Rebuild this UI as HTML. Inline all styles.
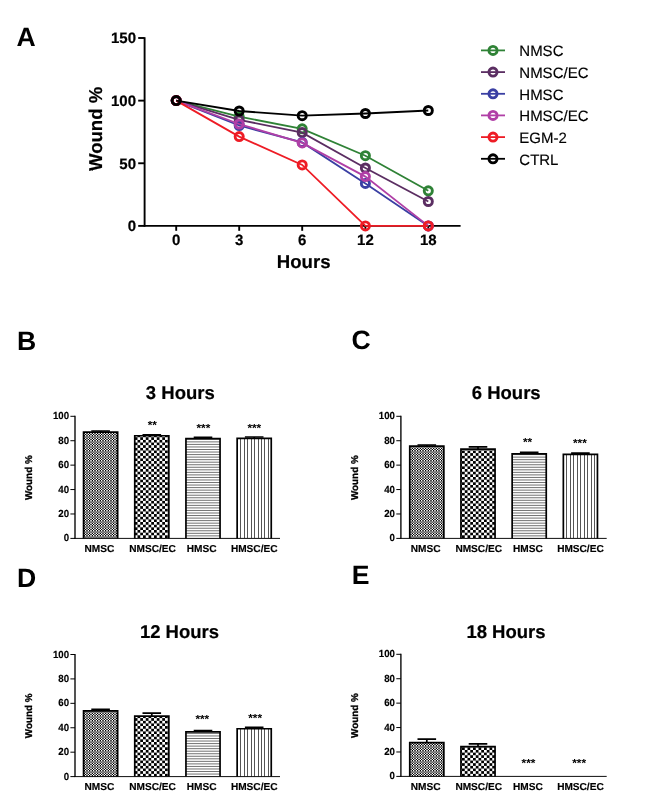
<!DOCTYPE html>
<html lang="en"><head><meta charset="utf-8"><title>Wound healing assay</title>
<style>
html,body{margin:0;padding:0;background:#fff;}
body{width:650px;height:807px;overflow:hidden;}
svg{display:block;}
text{font-family:"Liberation Sans", sans-serif;fill:#000;text-rendering:geometricPrecision;}
.pl{font-size:26.6px;font-weight:bold;}
.tA{font-size:15px;font-weight:bold;stroke:#000;stroke-width:0.2px;}
.lA{font-size:18.6px;font-weight:bold;stroke:#000;stroke-width:0.2px;}
.lg{font-size:15px;stroke:#000;stroke-width:0.15px;}
.tt{font-size:18.5px;font-weight:bold;stroke:#000;stroke-width:0.2px;}
.tB{font-size:10.3px;font-weight:bold;stroke:#000;stroke-width:0.15px;}
.bl{font-size:10.1px;font-weight:bold;stroke:#000;stroke-width:0.15px;}
.lB{font-size:9.9px;font-weight:bold;stroke:#000;stroke-width:0.3px;}
.st{font-size:11.8px;font-weight:bold;}
.axA{stroke:#000;stroke-width:1.9;fill:none;}
.axB{stroke:#000;fill:none;}
.eb{stroke:#000;stroke-width:1.7;fill:none;}
.hl{stroke:#000;stroke-width:0.56;fill:none;}
.vl{stroke:#555;stroke-width:1;fill:none;shape-rendering:crispEdges;}
</style></head><body>
<svg width="650" height="807" viewBox="0 0 650 807">
<defs>
<pattern id="p1" width="8" height="5" patternUnits="userSpaceOnUse" shape-rendering="crispEdges"><rect x="0" y="0" width="1" height="1" fill="#ffffff"/><rect x="1" y="0" width="1" height="1" fill="#000000"/><rect x="2" y="0" width="1" height="1" fill="#bfbfbf"/><rect x="3" y="0" width="1" height="1" fill="#bfbfbf"/><rect x="4" y="0" width="1" height="1" fill="#000000"/><rect x="5" y="0" width="1" height="1" fill="#ffffff"/><rect x="6" y="0" width="1" height="1" fill="#4c4c4c"/><rect x="7" y="0" width="1" height="1" fill="#4c4c4c"/><rect x="0" y="1" width="1" height="1" fill="#999999"/><rect x="1" y="1" width="1" height="1" fill="#666666"/><rect x="2" y="1" width="1" height="1" fill="#8c8c8c"/><rect x="3" y="1" width="1" height="1" fill="#8c8c8c"/><rect x="4" y="1" width="1" height="1" fill="#666666"/><rect x="5" y="1" width="1" height="1" fill="#999999"/><rect x="6" y="1" width="1" height="1" fill="#757575"/><rect x="7" y="1" width="1" height="1" fill="#757575"/><rect x="0" y="2" width="1" height="1" fill="#666666"/><rect x="1" y="2" width="1" height="1" fill="#999999"/><rect x="2" y="2" width="1" height="1" fill="#737373"/><rect x="3" y="2" width="1" height="1" fill="#737373"/><rect x="4" y="2" width="1" height="1" fill="#999999"/><rect x="5" y="2" width="1" height="1" fill="#666666"/><rect x="6" y="2" width="1" height="1" fill="#8a8a8a"/><rect x="7" y="2" width="1" height="1" fill="#8a8a8a"/><rect x="0" y="3" width="1" height="1" fill="#ffffff"/><rect x="1" y="3" width="1" height="1" fill="#000000"/><rect x="2" y="3" width="1" height="1" fill="#bfbfbf"/><rect x="3" y="3" width="1" height="1" fill="#bfbfbf"/><rect x="4" y="3" width="1" height="1" fill="#000000"/><rect x="5" y="3" width="1" height="1" fill="#ffffff"/><rect x="6" y="3" width="1" height="1" fill="#4c4c4c"/><rect x="7" y="3" width="1" height="1" fill="#4c4c4c"/><rect x="0" y="4" width="1" height="1" fill="#000000"/><rect x="1" y="4" width="1" height="1" fill="#ffffff"/><rect x="2" y="4" width="1" height="1" fill="#404040"/><rect x="3" y="4" width="1" height="1" fill="#404040"/><rect x="4" y="4" width="1" height="1" fill="#ffffff"/><rect x="5" y="4" width="1" height="1" fill="#000000"/><rect x="6" y="4" width="1" height="1" fill="#b2b2b2"/><rect x="7" y="4" width="1" height="1" fill="#b2b2b2"/></pattern>
<pattern id="p2" width="5.5" height="5.3" patternUnits="userSpaceOnUse"><rect width="5.5" height="5.3" fill="#fff"/><rect width="2.75" height="2.65" fill="#000"/><rect x="2.75" y="2.65" width="2.75" height="2.65" fill="#000"/></pattern>
<pattern id="p3" width="4" height="2.6" patternUnits="userSpaceOnUse"><rect width="4" height="2.6" fill="#fff"/><rect width="4" height="0.65" fill="#222"/></pattern>
<pattern id="p4" width="3.4" height="4" patternUnits="userSpaceOnUse"><rect width="3.4" height="4" fill="#fff"/><rect width="0.65" height="4" fill="#222"/></pattern>
</defs>
<rect width="650" height="807" fill="#fff"/>
<g id="panelA">
<text x="16.4" y="45.9" class="pl">A</text>
<path d="M144.6 37.245000000000005V226.65" class="axA"/>
<path d="M143.85 225.9H460.6" class="axA"/>
<path d="M138.2 225.9H144.6" class="axA"/>
<text x="136.0" y="231.3" class="tA" text-anchor="end">0</text>
<path d="M138.2 163.26500000000001H144.6" class="axA"/>
<text x="136.0" y="168.66500000000002" class="tA" text-anchor="end">50</text>
<path d="M138.2 100.63000000000001H144.6" class="axA"/>
<text x="136.0" y="106.03000000000002" class="tA" text-anchor="end">100</text>
<path d="M138.2 37.995000000000005H144.6" class="axA"/>
<text x="136.0" y="43.395" class="tA" text-anchor="end">150</text>
<path d="M176.2 225.9V230.8" class="axA"/>
<text x="176.2" y="244.8" class="tA" text-anchor="middle">0</text>
<path d="M239.2 225.9V230.8" class="axA"/>
<text x="239.2" y="244.8" class="tA" text-anchor="middle">3</text>
<path d="M302.2 225.9V230.8" class="axA"/>
<text x="302.2" y="244.8" class="tA" text-anchor="middle">6</text>
<path d="M365.4 225.9V230.8" class="axA"/>
<text x="365.4" y="244.8" class="tA" text-anchor="middle">12</text>
<path d="M428.3 225.9V230.8" class="axA"/>
<text x="428.3" y="244.8" class="tA" text-anchor="middle">18</text>
<text x="303.7" y="267.5" class="lA" text-anchor="middle">Hours</text>
<text transform="translate(102.2,128.9) rotate(-90)" class="lA" text-anchor="middle">Wound %</text>
<g stroke="#2f8236" fill="none">
<polyline points="176.2,100.6 239.2,116.6 302.2,128.8 365.4,155.7 428.3,190.8" stroke-width="1.8"/>
<circle cx="176.2" cy="100.6" r="4.05" stroke-width="2.9"/>
<circle cx="239.2" cy="116.6" r="4.05" stroke-width="2.9"/>
<circle cx="302.2" cy="128.8" r="4.05" stroke-width="2.9"/>
<circle cx="365.4" cy="155.7" r="4.05" stroke-width="2.9"/>
<circle cx="428.3" cy="190.8" r="4.05" stroke-width="2.9"/>
</g>
<g stroke="#5b2e62" fill="none">
<polyline points="176.2,100.6 239.2,119.8 302.2,132.6 365.4,168.0 428.3,201.5" stroke-width="1.8"/>
<circle cx="176.2" cy="100.6" r="4.05" stroke-width="2.9"/>
<circle cx="239.2" cy="119.8" r="4.05" stroke-width="2.9"/>
<circle cx="302.2" cy="132.6" r="4.05" stroke-width="2.9"/>
<circle cx="365.4" cy="168.0" r="4.05" stroke-width="2.9"/>
<circle cx="428.3" cy="201.5" r="4.05" stroke-width="2.9"/>
</g>
<g stroke="#3a3fa3" fill="none">
<polyline points="176.2,100.6 239.2,125.5 302.2,142.4 365.4,183.4 428.3,225.9" stroke-width="1.8"/>
<circle cx="176.2" cy="100.6" r="4.05" stroke-width="2.9"/>
<circle cx="239.2" cy="125.5" r="4.05" stroke-width="2.9"/>
<circle cx="302.2" cy="142.4" r="4.05" stroke-width="2.9"/>
<circle cx="365.4" cy="183.4" r="4.05" stroke-width="2.9"/>
<circle cx="428.3" cy="225.9" r="4.05" stroke-width="2.9"/>
</g>
<g stroke="#b03fa6" fill="none">
<polyline points="176.2,100.6 239.2,124.0 302.2,142.9 365.4,176.6 428.3,225.9" stroke-width="1.8"/>
<circle cx="176.2" cy="100.6" r="4.05" stroke-width="2.9"/>
<circle cx="239.2" cy="124.0" r="4.05" stroke-width="2.9"/>
<circle cx="302.2" cy="142.9" r="4.05" stroke-width="2.9"/>
<circle cx="365.4" cy="176.6" r="4.05" stroke-width="2.9"/>
<circle cx="428.3" cy="225.9" r="4.05" stroke-width="2.9"/>
</g>
<g stroke="#ee1c25" fill="none">
<polyline points="176.2,100.6 239.2,136.6 302.2,164.9 365.4,225.9 428.3,225.9" stroke-width="1.8"/>
<circle cx="176.2" cy="100.6" r="4.05" stroke-width="2.9"/>
<circle cx="239.2" cy="136.6" r="4.05" stroke-width="2.9"/>
<circle cx="302.2" cy="164.9" r="4.05" stroke-width="2.9"/>
<circle cx="365.4" cy="225.9" r="4.05" stroke-width="2.9"/>
<circle cx="428.3" cy="225.9" r="4.05" stroke-width="2.9"/>
</g>
<g stroke="#000000" fill="none">
<polyline points="176.2,100.6 239.2,111.0 302.2,115.7 365.4,113.5 428.3,110.5" stroke-width="1.8"/>
<circle cx="176.2" cy="100.6" r="4.05" stroke-width="2.9"/>
<circle cx="239.2" cy="111.0" r="4.05" stroke-width="2.9"/>
<circle cx="302.2" cy="115.7" r="4.05" stroke-width="2.9"/>
<circle cx="365.4" cy="113.5" r="4.05" stroke-width="2.9"/>
<circle cx="428.3" cy="110.5" r="4.05" stroke-width="2.9"/>
</g>
<g stroke="#2f8236" fill="none"><path d="M481 50.4H505" stroke-width="1.8"/><circle cx="493" cy="50.4" r="4.05" stroke-width="2.9"/></g>
<text x="519.3" y="56.2" class="lg">NMSC</text>
<g stroke="#5b2e62" fill="none"><path d="M481 72.1H505" stroke-width="1.8"/><circle cx="493" cy="72.1" r="4.05" stroke-width="2.9"/></g>
<text x="519.3" y="77.9" class="lg">NMSC/EC</text>
<g stroke="#3a3fa3" fill="none"><path d="M481 93.8H505" stroke-width="1.8"/><circle cx="493" cy="93.8" r="4.05" stroke-width="2.9"/></g>
<text x="519.3" y="99.6" class="lg">HMSC</text>
<g stroke="#b03fa6" fill="none"><path d="M481 115.4H505" stroke-width="1.8"/><circle cx="493" cy="115.4" r="4.05" stroke-width="2.9"/></g>
<text x="519.3" y="121.2" class="lg">HMSC/EC</text>
<g stroke="#ee1c25" fill="none"><path d="M481 137.1H505" stroke-width="1.8"/><circle cx="493" cy="137.1" r="4.05" stroke-width="2.9"/></g>
<text x="519.3" y="142.9" class="lg">EGM-2</text>
<g stroke="#000000" fill="none"><path d="M481 158.8H505" stroke-width="1.8"/><circle cx="493" cy="158.8" r="4.05" stroke-width="2.9"/></g>
<text x="519.3" y="164.6" class="lg">CTRL</text>
</g>
<g id="panelB">
<text x="17.0" y="349.7" class="pl">B</text>
<text x="180.3" y="398.7" class="tt" text-anchor="middle">3 Hours</text>
<rect x="82.70" y="431.20" width="35.80" height="107.20" fill="#fff"/>
<path d="M100.6 432.2V431.00M91.3 431.00H109.9" class="eb"/>
<clipPath id="c1"><rect x="83.55" y="432.05" width="34.10" height="106.35"/></clipPath>
<rect x="83.55" y="432.05" width="34.10" height="106.35" fill="url(#p1)"/>
<path d="M83.55 538.40V432.05H117.65V538.40" fill="none" stroke="#000" stroke-width="1.7"/>
<text x="99.4" y="552.0" class="bl" text-anchor="middle">NMSC</text>
<rect x="133.90" y="434.90" width="35.80" height="103.50" fill="#fff"/>
<path d="M151.8 435.9V434.90M142.5 434.90H161.1" class="eb"/>
<clipPath id="c2"><rect x="134.75" y="435.75" width="34.10" height="102.65"/></clipPath>
<rect x="134.75" y="435.75" width="34.10" height="102.65" fill="url(#p2)"/>
<path d="M134.75 538.40V435.75H168.85V538.40" fill="none" stroke="#000" stroke-width="1.7"/>
<text x="152.3" y="429.3" class="st" text-anchor="middle">**</text>
<text x="152.5" y="552.0" class="bl" text-anchor="middle">NMSC/EC</text>
<rect x="185.10" y="437.80" width="35.80" height="100.60" fill="#fff"/>
<path d="M203.0 438.8V437.40M193.7 437.40H212.3" class="eb"/>
<clipPath id="c3"><rect x="185.95" y="438.65" width="34.10" height="99.75"/></clipPath>
<path d="M186.0 535.86H220.1M186.0 533.32H220.1M186.0 530.78H220.1M186.0 528.24H220.1M186.0 525.70H220.1M186.0 523.16H220.1M186.0 520.62H220.1M186.0 518.08H220.1M186.0 515.54H220.1M186.0 513.00H220.1M186.0 510.46H220.1M186.0 507.92H220.1M186.0 505.38H220.1M186.0 502.84H220.1M186.0 500.30H220.1M186.0 497.76H220.1M186.0 495.22H220.1M186.0 492.68H220.1M186.0 490.14H220.1M186.0 487.60H220.1M186.0 485.06H220.1M186.0 482.52H220.1M186.0 479.98H220.1M186.0 477.44H220.1M186.0 474.90H220.1M186.0 472.36H220.1M186.0 469.82H220.1M186.0 467.28H220.1M186.0 464.74H220.1M186.0 462.20H220.1M186.0 459.66H220.1M186.0 457.12H220.1M186.0 454.58H220.1M186.0 452.04H220.1M186.0 449.50H220.1M186.0 446.96H220.1M186.0 444.42H220.1M186.0 441.88H220.1M186.0 439.34H220.1" class="hl" clip-path="url(#c3)"/>
<path d="M185.95 538.40V438.65H220.05V538.40" fill="none" stroke="#000" stroke-width="1.7"/>
<text x="203.4" y="432.0" class="st" text-anchor="middle">***</text>
<text x="201.7" y="552.0" class="bl" text-anchor="middle">HMSC</text>
<rect x="236.30" y="437.50" width="35.80" height="100.90" fill="#fff"/>
<path d="M254.2 438.5V437.00M244.9 437.00H263.5" class="eb"/>
<clipPath id="c4"><rect x="237.15" y="438.35" width="34.10" height="100.05"/></clipPath>
<path d="M240.75 438.4V538.4M244.20 438.4V538.4M247.65 438.4V538.4M251.10 438.4V538.4M254.55 438.4V538.4M258.00 438.4V538.4M261.45 438.4V538.4M264.90 438.4V538.4M268.35 438.4V538.4" class="vl" clip-path="url(#c4)"/>
<path d="M237.15 538.40V438.35H271.25V538.40" fill="none" stroke="#000" stroke-width="1.7"/>
<text x="254.3" y="432.4" class="st" text-anchor="middle">***</text>
<text x="254.2" y="552.0" class="bl" text-anchor="middle">HMSC/EC</text>
<path d="M75.0 415.80V538.85" class="axB" stroke-width="1.35"/>
<path d="M74.40 538.40H280.00" class="axB" stroke-width="0.95"/>
<path d="M70.40 538.40H75.0" class="axB" stroke-width="1"/>
<text transform="translate(69.1,541.4) scale(0.94,1)" class="tB" text-anchor="end">0</text>
<path d="M70.40 513.98H75.0" class="axB" stroke-width="1"/>
<text transform="translate(69.1,516.9) scale(0.94,1)" class="tB" text-anchor="end">20</text>
<path d="M70.40 489.56H75.0" class="axB" stroke-width="1"/>
<text transform="translate(69.1,492.5) scale(0.94,1)" class="tB" text-anchor="end">40</text>
<path d="M70.40 465.14H75.0" class="axB" stroke-width="1"/>
<text transform="translate(69.1,468.1) scale(0.94,1)" class="tB" text-anchor="end">60</text>
<path d="M70.40 440.72H75.0" class="axB" stroke-width="1"/>
<text transform="translate(69.1,443.7) scale(0.94,1)" class="tB" text-anchor="end">80</text>
<path d="M70.40 416.30H75.0" class="axB" stroke-width="1"/>
<text transform="translate(69.1,419.2) scale(0.94,1)" class="tB" text-anchor="end">100</text>
<text transform="translate(32.2,477.7) rotate(-90)" class="lB" text-anchor="middle">Wound %</text>
</g>
<g id="panelC">
<text x="351.5" y="349.3" class="pl">C</text>
<text x="506.2" y="398.7" class="tt" text-anchor="middle">6 Hours</text>
<rect x="408.90" y="445.20" width="35.80" height="93.20" fill="#fff"/>
<path d="M426.8 446.2V445.00M417.5 445.00H436.1" class="eb"/>
<clipPath id="c5"><rect x="409.75" y="446.05" width="34.10" height="92.35"/></clipPath>
<rect x="409.75" y="446.05" width="34.10" height="92.35" fill="url(#p1)"/>
<path d="M409.75 538.40V446.05H443.85V538.40" fill="none" stroke="#000" stroke-width="1.7"/>
<text x="425.6" y="552.0" class="bl" text-anchor="middle">NMSC</text>
<rect x="460.10" y="448.20" width="35.80" height="90.20" fill="#fff"/>
<path d="M478.0 449.2V446.90M468.7 446.90H487.3" class="eb"/>
<clipPath id="c6"><rect x="460.95" y="449.05" width="34.10" height="89.35"/></clipPath>
<rect x="460.95" y="449.05" width="34.10" height="89.35" fill="url(#p2)"/>
<path d="M460.95 538.40V449.05H495.05V538.40" fill="none" stroke="#000" stroke-width="1.7"/>
<text x="478.7" y="552.0" class="bl" text-anchor="middle">NMSC/EC</text>
<rect x="511.30" y="453.10" width="35.80" height="85.30" fill="#fff"/>
<path d="M529.2 454.1V452.30M519.9 452.30H538.5" class="eb"/>
<clipPath id="c7"><rect x="512.15" y="453.95" width="34.10" height="84.45"/></clipPath>
<path d="M512.1 535.86H546.2M512.1 533.32H546.2M512.1 530.78H546.2M512.1 528.24H546.2M512.1 525.70H546.2M512.1 523.16H546.2M512.1 520.62H546.2M512.1 518.08H546.2M512.1 515.54H546.2M512.1 513.00H546.2M512.1 510.46H546.2M512.1 507.92H546.2M512.1 505.38H546.2M512.1 502.84H546.2M512.1 500.30H546.2M512.1 497.76H546.2M512.1 495.22H546.2M512.1 492.68H546.2M512.1 490.14H546.2M512.1 487.60H546.2M512.1 485.06H546.2M512.1 482.52H546.2M512.1 479.98H546.2M512.1 477.44H546.2M512.1 474.90H546.2M512.1 472.36H546.2M512.1 469.82H546.2M512.1 467.28H546.2M512.1 464.74H546.2M512.1 462.20H546.2M512.1 459.66H546.2M512.1 457.12H546.2M512.1 454.58H546.2" class="hl" clip-path="url(#c7)"/>
<path d="M512.15 538.40V453.95H546.25V538.40" fill="none" stroke="#000" stroke-width="1.7"/>
<text x="527.6" y="445.7" class="st" text-anchor="middle">**</text>
<text x="527.9" y="552.0" class="bl" text-anchor="middle">HMSC</text>
<rect x="562.50" y="453.60" width="35.80" height="84.80" fill="#fff"/>
<path d="M580.4 454.6V453.20M571.1 453.20H589.7" class="eb"/>
<clipPath id="c8"><rect x="563.35" y="454.45" width="34.10" height="83.95"/></clipPath>
<path d="M566.95 454.5V538.4M570.40 454.5V538.4M573.85 454.5V538.4M577.30 454.5V538.4M580.75 454.5V538.4M584.20 454.5V538.4M587.65 454.5V538.4M591.10 454.5V538.4M594.55 454.5V538.4" class="vl" clip-path="url(#c8)"/>
<path d="M563.35 538.40V454.45H597.45V538.40" fill="none" stroke="#000" stroke-width="1.7"/>
<text x="579.9" y="447.0" class="st" text-anchor="middle">***</text>
<text x="580.4" y="552.0" class="bl" text-anchor="middle">HMSC/EC</text>
<path d="M400.9 415.80V538.85" class="axB" stroke-width="1.35"/>
<path d="M400.30 538.40H606.70" class="axB" stroke-width="0.95"/>
<path d="M396.30 538.40H400.9" class="axB" stroke-width="1"/>
<text transform="translate(395.0,541.4) scale(0.94,1)" class="tB" text-anchor="end">0</text>
<path d="M396.30 513.98H400.9" class="axB" stroke-width="1"/>
<text transform="translate(395.0,516.9) scale(0.94,1)" class="tB" text-anchor="end">20</text>
<path d="M396.30 489.56H400.9" class="axB" stroke-width="1"/>
<text transform="translate(395.0,492.5) scale(0.94,1)" class="tB" text-anchor="end">40</text>
<path d="M396.30 465.14H400.9" class="axB" stroke-width="1"/>
<text transform="translate(395.0,468.1) scale(0.94,1)" class="tB" text-anchor="end">60</text>
<path d="M396.30 440.72H400.9" class="axB" stroke-width="1"/>
<text transform="translate(395.0,443.7) scale(0.94,1)" class="tB" text-anchor="end">80</text>
<path d="M396.30 416.30H400.9" class="axB" stroke-width="1"/>
<text transform="translate(395.0,419.2) scale(0.94,1)" class="tB" text-anchor="end">100</text>
<text transform="translate(358.1,477.7) rotate(-90)" class="lB" text-anchor="middle">Wound %</text>
</g>
<g id="panelD">
<text x="17.0" y="587.4" class="pl">D</text>
<text x="179.5" y="637.7" class="tt" text-anchor="middle">12 Hours</text>
<rect x="82.70" y="710.00" width="35.80" height="66.60" fill="#fff"/>
<path d="M100.6 711.0V709.30M91.3 709.30H109.9" class="eb"/>
<clipPath id="c9"><rect x="83.55" y="710.85" width="34.10" height="65.75"/></clipPath>
<rect x="83.55" y="710.85" width="34.10" height="65.75" fill="url(#p1)"/>
<path d="M83.55 776.60V710.85H117.65V776.60" fill="none" stroke="#000" stroke-width="1.7"/>
<text x="99.4" y="790.2" class="bl" text-anchor="middle">NMSC</text>
<rect x="133.90" y="715.30" width="35.80" height="61.30" fill="#fff"/>
<path d="M151.8 716.3V713.20M142.5 713.20H161.1" class="eb"/>
<clipPath id="c10"><rect x="134.75" y="716.15" width="34.10" height="60.45"/></clipPath>
<rect x="134.75" y="716.15" width="34.10" height="60.45" fill="url(#p2)"/>
<path d="M134.75 776.60V716.15H168.85V776.60" fill="none" stroke="#000" stroke-width="1.7"/>
<text x="152.5" y="790.2" class="bl" text-anchor="middle">NMSC/EC</text>
<rect x="185.10" y="731.00" width="35.80" height="45.60" fill="#fff"/>
<path d="M203.0 732.0V730.50M193.7 730.50H212.3" class="eb"/>
<clipPath id="c11"><rect x="185.95" y="731.85" width="34.10" height="44.75"/></clipPath>
<path d="M186.0 774.06H220.1M186.0 771.52H220.1M186.0 768.98H220.1M186.0 766.44H220.1M186.0 763.90H220.1M186.0 761.36H220.1M186.0 758.82H220.1M186.0 756.28H220.1M186.0 753.74H220.1M186.0 751.20H220.1M186.0 748.66H220.1M186.0 746.12H220.1M186.0 743.58H220.1M186.0 741.04H220.1M186.0 738.50H220.1M186.0 735.96H220.1M186.0 733.42H220.1" class="hl" clip-path="url(#c11)"/>
<path d="M185.95 776.60V731.85H220.05V776.60" fill="none" stroke="#000" stroke-width="1.7"/>
<text x="202.3" y="723.3" class="st" text-anchor="middle">***</text>
<text x="201.7" y="790.2" class="bl" text-anchor="middle">HMSC</text>
<rect x="236.30" y="727.90" width="35.80" height="48.70" fill="#fff"/>
<path d="M254.2 728.9V727.30M244.9 727.30H263.5" class="eb"/>
<clipPath id="c12"><rect x="237.15" y="728.75" width="34.10" height="47.85"/></clipPath>
<path d="M240.75 728.8V776.6M244.20 728.8V776.6M247.65 728.8V776.6M251.10 728.8V776.6M254.55 728.8V776.6M258.00 728.8V776.6M261.45 728.8V776.6M264.90 728.8V776.6M268.35 728.8V776.6" class="vl" clip-path="url(#c12)"/>
<path d="M237.15 776.60V728.75H271.25V776.60" fill="none" stroke="#000" stroke-width="1.7"/>
<text x="255.1" y="721.5" class="st" text-anchor="middle">***</text>
<text x="254.2" y="790.2" class="bl" text-anchor="middle">HMSC/EC</text>
<path d="M75.0 654.00V777.05" class="axB" stroke-width="1.35"/>
<path d="M74.40 776.60H280.00" class="axB" stroke-width="0.95"/>
<path d="M70.40 776.60H75.0" class="axB" stroke-width="1"/>
<text transform="translate(69.1,779.6) scale(0.94,1)" class="tB" text-anchor="end">0</text>
<path d="M70.40 752.18H75.0" class="axB" stroke-width="1"/>
<text transform="translate(69.1,755.1) scale(0.94,1)" class="tB" text-anchor="end">20</text>
<path d="M70.40 727.76H75.0" class="axB" stroke-width="1"/>
<text transform="translate(69.1,730.7) scale(0.94,1)" class="tB" text-anchor="end">40</text>
<path d="M70.40 703.34H75.0" class="axB" stroke-width="1"/>
<text transform="translate(69.1,706.3) scale(0.94,1)" class="tB" text-anchor="end">60</text>
<path d="M70.40 678.92H75.0" class="axB" stroke-width="1"/>
<text transform="translate(69.1,681.9) scale(0.94,1)" class="tB" text-anchor="end">80</text>
<path d="M70.40 654.50H75.0" class="axB" stroke-width="1"/>
<text transform="translate(69.1,657.5) scale(0.94,1)" class="tB" text-anchor="end">100</text>
<text transform="translate(32.2,715.8) rotate(-90)" class="lB" text-anchor="middle">Wound %</text>
</g>
<g id="panelE">
<text x="351.8" y="584.1" class="pl">E</text>
<text x="506.0" y="637.7" class="tt" text-anchor="middle">18 Hours</text>
<rect x="408.90" y="741.80" width="35.80" height="34.60" fill="#fff"/>
<path d="M426.8 742.8V739.15M417.5 739.15H436.1" class="eb"/>
<clipPath id="c13"><rect x="409.75" y="742.65" width="34.10" height="33.75"/></clipPath>
<rect x="409.75" y="742.65" width="34.10" height="33.75" fill="url(#p1)"/>
<path d="M409.75 776.40V742.65H443.85V776.40" fill="none" stroke="#000" stroke-width="1.7"/>
<text x="425.6" y="790.0" class="bl" text-anchor="middle">NMSC</text>
<rect x="460.10" y="745.80" width="35.80" height="30.60" fill="#fff"/>
<path d="M478.0 746.8V743.90M468.7 743.90H487.3" class="eb"/>
<clipPath id="c14"><rect x="460.95" y="746.65" width="34.10" height="29.75"/></clipPath>
<rect x="460.95" y="746.65" width="34.10" height="29.75" fill="url(#p2)"/>
<path d="M460.95 776.40V746.65H495.05V776.40" fill="none" stroke="#000" stroke-width="1.7"/>
<text x="478.7" y="790.0" class="bl" text-anchor="middle">NMSC/EC</text>
<text x="528.5" y="766.5" class="st" text-anchor="middle">***</text>
<text x="527.9" y="790.0" class="bl" text-anchor="middle">HMSC</text>
<text x="579.1" y="766.5" class="st" text-anchor="middle">***</text>
<text x="580.4" y="790.0" class="bl" text-anchor="middle">HMSC/EC</text>
<path d="M400.9 653.80V776.85" class="axB" stroke-width="1.35"/>
<path d="M400.30 776.40H606.70" class="axB" stroke-width="0.95"/>
<path d="M396.30 776.40H400.9" class="axB" stroke-width="1"/>
<text transform="translate(395.0,779.4) scale(0.94,1)" class="tB" text-anchor="end">0</text>
<path d="M396.30 751.98H400.9" class="axB" stroke-width="1"/>
<text transform="translate(395.0,754.9) scale(0.94,1)" class="tB" text-anchor="end">20</text>
<path d="M396.30 727.56H400.9" class="axB" stroke-width="1"/>
<text transform="translate(395.0,730.5) scale(0.94,1)" class="tB" text-anchor="end">40</text>
<path d="M396.30 703.14H400.9" class="axB" stroke-width="1"/>
<text transform="translate(395.0,706.1) scale(0.94,1)" class="tB" text-anchor="end">60</text>
<path d="M396.30 678.72H400.9" class="axB" stroke-width="1"/>
<text transform="translate(395.0,681.7) scale(0.94,1)" class="tB" text-anchor="end">80</text>
<path d="M396.30 654.30H400.9" class="axB" stroke-width="1"/>
<text transform="translate(395.0,657.2) scale(0.94,1)" class="tB" text-anchor="end">100</text>
<text transform="translate(358.1,715.6) rotate(-90)" class="lB" text-anchor="middle">Wound %</text>
</g>
</svg>
</body></html>
